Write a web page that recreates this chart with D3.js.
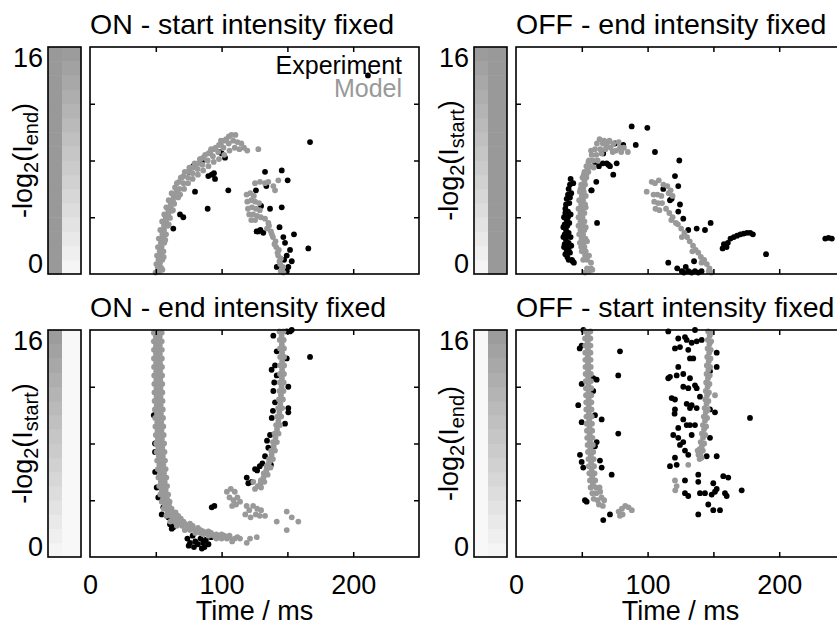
<!DOCTYPE html>
<html>
<head>
<meta charset="utf-8">
<script src="https://cdn.jsdelivr.net/npm/d3@7"></script>
<style>
  body { margin: 0; background: #fff; }
  svg { display: block; font-family: "Liberation Sans", Arial, Helvetica, sans-serif; }
</style>
</head>
<body>
<div id="chart"></div>
<script>
// Response latency vs. log intensity, four step conditions (Experiment vs Model)

const titles = ["ON - start intensity fixed", "OFF - end intensity fixed",
                "ON - end intensity fixed", "OFF - start intensity fixed"];
const ySubs = ["end", "start", "start", "end"];
const xTickLabels = [0, 100, 200];
const yTickLabels = [0, 16];
const legendLabels = ["Experiment", "Model"];
// colour bar columns: start (left) and end (right) intensity, "grad" = varies along y
const barStart = [16, "grad", "grad", 0];
const barEnd = ["grad", 16, 0, "grad"];

// [time ms, -log2 I]
const onStartExp = [[167.2,9.3],[133.0,7.2],[145.7,7.3],[150.2,6.6],[105.1,5.9],[126.1,5.9],[89.4,4.6],[136.8,4.6],[145.7,4.7],[70.9,4.0],[127.9,3.0],[131.7,2.9],[146.9,2.6],[155.0,2.8],[148.2,2.2],[152.0,1.7],[165.9,1.8],[149.5,1.3],[153.3,0.9],[141.9,0.5],[150.7,0.5],[149.5,0.2],[92.5,7.0],[95.0,6.7],[94.2,7.1],[89.9,6.9],[100.1,8.5],[102.6,8.2],[78.5,7.6],[79.8,5.8],[68.4,4.2],[63.3,3.2],[211.2,14.0],[52,0.5],[55,2.5],[58,4.0],[75,7.2],[85,7.9],[98,8.6],[130,4.8],[134,6.2],[126.6,3.0],[129.5,3.1],[144,3.3],[147.5,1.0]];
const onStartMod = [[49.8,0.1],[52.6,0.2],[55.0,0.3],[50.4,0.7],[53.2,0.8],[50.9,1.3],[53.8,1.3],[56.0,1.2],[51.6,1.9],[54.4,1.9],[52.3,2.5],[55.2,2.5],[57.2,2.4],[53.4,3.1],[56.3,3.1],[54.8,3.7],[57.8,3.7],[59.8,3.5],[56.4,4.2],[59.4,4.2],[58.0,4.7],[61.2,4.7],[63.0,4.5],[59.8,5.2],[63.0,5.2],[62.0,5.7],[65.4,5.6],[67.0,5.4],[64.6,6.1],[68.0,6.0],[67.6,6.5],[71.0,6.4],[69.8,6.8],[71.0,6.9],[74.4,6.8],[74.6,7.2],[78.0,7.1],[76.5,7.5],[78.4,7.5],[81.8,7.4],[82.0,7.8],[85.4,7.7],[84.0,8.1],[86.0,8.2],[89.4,8.0],[90.0,8.5],[93.4,8.3],[92.0,8.8],[94.0,8.8],[97.4,8.6],[98.0,9.1],[101.4,8.9],[99.5,9.4],[102.0,9.4],[105.4,9.2],[105.5,9.7],[108.8,9.4],[110.5,9.8],[112.0,9.3],[115.0,9.2],[113.5,8.8],[117.0,8.9],[119.5,8.7],[127.9,8.8],
  [66.0,6.4],[69.0,6.8],[72.0,7.2],[75.5,7.5],[79.5,7.8],[83.5,8.1],[87.5,8.4],[91.5,8.6],[95.5,8.9],[99.5,9.1],[103.5,9.5],[107.5,9.8],
  [68.5,5.6],[71.5,6.0],[74.5,6.4],[78.0,6.7],[82.0,7.0],[86.0,7.3],[90.0,7.6],[94.0,7.9],[98.0,8.1],[102.0,8.4],[106.0,8.7],[110.0,8.9],
  [51.5,0.45],[54.0,0.45],[52.0,1.0],[55.0,1.0],[53.0,1.6],[55.8,1.6],[53.8,2.2],[56.5,2.2],[55.0,2.8],[57.8,2.8],[56.2,3.4],[59.0,3.4],[57.8,3.95],[60.8,3.95],[59.5,4.45],[62.2,4.45],[61.3,4.95],[64.0,4.95],[63.5,5.45],[66.2,5.45],[66.0,5.85],
  [125.4,6.4],[129.2,6.5],[133.0,6.4],[135.5,6.5],[139.3,6.2],[143.1,6.6],[140.6,5.9],
  [119.0,5.6],[121.8,5.7],[124.5,5.5],[119.5,5.1],[122.5,5.2],[125.5,5.1],[128.5,5.0],[120.0,4.6],[123.0,4.7],[126.0,4.6],[129.0,4.5],[121.0,4.2],[124.0,4.2],[127.0,4.1],[129.8,4.0],[122.5,3.8],[125.5,3.8],
  [133.0,3.9],[135.5,3.6],[134.5,3.2],[137.5,3.0],[139.0,2.6],[141.0,2.3],[141.5,1.9],[143.5,1.7],[143.0,1.3],[145.0,1.1],[144.5,0.7],[146.5,0.5],[145.0,0.2],[147.0,0.1],
  [136.0,3.4],[138.2,2.8],[140.2,2.1],[142.5,1.5],[144.0,0.9],[146.0,0.3]];

const offEndExp = [[41.5,6.7],[43.5,6.4],[40.0,6.0],[42.0,5.7],[38.5,5.3],[40.5,5.0],[37.5,4.6],[39.5,4.4],[41.5,4.2],[36.5,4.0],[38.5,3.8],[40.5,3.6],[36.0,3.3],[38.0,3.1],[40.0,2.9],[36.0,2.6],[38.0,2.4],[40.0,2.2],[42.0,2.0],[36.5,1.9],[38.5,1.7],[41.0,1.5],[39.0,1.2],[42.5,1.0],[44.0,0.8],
  [37.5,1.4],[40.0,1.0],[37.0,2.1],[39.0,2.0],[37.0,2.8],[39.0,2.7],[41.5,2.6],[37.0,3.5],[39.0,3.4],[37.5,4.3],[39.5,4.0],[38.0,4.9],[39.5,5.6],[41.0,5.4],[41.0,6.3],[43.0,0.9],[40.0,1.8],
  [61.0,6.5],[57.2,5.9],[61.6,3.6],[87.9,10.4],[99.8,10.3],[91.0,9.1],[105.6,8.6],[76.5,7.8],[68.9,7.8],[71.4,7.6],[70.1,7.7],[73.9,7.0],[57.5,5.9],[81.5,9.1],[75.2,9.2],[66.3,8.5],[60,7.9],[63,7.6],[66,7.8],
  [124.1,8.0],[120.8,6.9],[123.3,6.2],[111.9,6.0],[117.0,5.2],[118.3,5.3],[124.6,4.9],[123.3,4.4],[127.1,3.9],[130.9,3.1],[137.3,3.2],[143.6,3.1],[147.9,3.6],[135.3,0.9],[115.7,0.8],
  [122.5,0.4],[126.0,0.2],[129.0,0.5],[131.0,0.2],[133.5,0.1],[136.0,0.2],[138.5,0.1],[141.0,0.2],[127.5,0.1],
  [157.0,1.8],[158.0,2.1],[160.0,1.9],[161.0,2.2],[163.0,2.5],[165.5,2.6],[168.0,2.7],[170.5,2.8],[173.0,2.85],[175.5,2.9],[178.0,2.9],[180.0,2.8],
  [190.0,1.4],[235.0,2.5],[237.5,2.55],[240.0,2.5]];
const offEndMod = [[52.5,0.1],[55.5,0.2],[58.0,0.3],[51.0,1.0],[54.0,1.0],[57.0,0.8],[50.0,1.6],[53.0,1.6],[48.5,2.2],[51.5,2.2],[54.0,2.3],[48.0,2.8],[51.0,2.8],[47.5,3.4],[50.5,3.4],[53.0,3.3],[47.5,4.0],[50.5,4.0],[47.5,4.6],[50.5,4.6],[53.0,4.7],[48.0,5.2],[51.0,5.2],[48.5,5.8],[51.5,5.8],[49.5,6.3],[52.5,6.3],[50.5,6.8],[53.5,6.8],[52.0,7.2],[55.0,7.2],[53.5,7.6],[56.5,7.6],[59.0,7.5],[55.5,8.0],[58.5,8.0],[62.0,8.0],[57.5,8.4],[61.0,8.4],[65.0,8.5],[60.0,8.8],[64.0,8.8],[68.0,8.8],[72.0,8.9],[76.0,8.7],[61.5,9.2],[66.0,9.2],[70.0,9.3],[74.0,9.2],[67.0,9.4],[71.0,9.4],[79.0,8.9],[82.0,8.9],[80.0,8.6],[85.0,8.6],
  [57.0,8.7],[63.5,9.5],[69.0,9.0],[73.5,8.6],[78.0,9.3],[55.0,7.9],[51.5,7.0],[49.0,6.0],
  [54.0,0.4],[57.0,0.4],[52.5,1.3],[55.5,1.3],[49.5,1.9],[52.0,1.9],[49.8,2.5],[52.8,2.5],[49.0,3.1],[52.0,3.1],[49.0,3.7],[52.0,3.7],[49.0,4.3],[52.0,4.3],[49.5,4.9],[52.5,4.9],[50.0,5.5],[53.0,5.5],[51.0,6.05],[52.0,6.55],[53.5,7.0],[54.5,7.4],
  [99.3,5.8],[103.1,6.5],[105.6,6.4],[108.5,6.6],[104.5,5.6],[107.5,5.6],[110.5,5.5],[105.0,5.1],[108.0,5.0],[111.0,5.0],[106.0,4.6],[109.0,4.5],[112.0,6.3],[115.0,6.2],[117.5,5.9],[119.0,5.5],[116.0,5.7],[114.0,4.6],[116.5,4.3],[119.0,4.0],[121.5,3.6],[118.0,3.8],[123.0,3.5],[125.5,3.2],[128.0,2.9],[126.0,2.6],[130.0,2.6],[132.0,2.3],[134.5,2.0],[136.5,1.7],[134.0,1.6],[138.5,1.5],[140.5,1.2],[143.0,1.0],[141.0,0.8],[145.0,0.7],[147.0,0.4],[148.5,0.1],[146.5,0.2]];

const onEndExp = [[49.4,8.0],[49.4,7.4],[50.7,4.9],[51.9,4.2],[54.5,3.0],[60.8,2.3],[62.1,2.0],[53.2,4.2],[55.7,3.5],[59.5,2.8],[63.3,2.1],[48.5,10.0],[49.5,6.0],
  [74,1.3],[76,1.0],[78,1.5],[80,1.1],[82,0.9],[84,1.3],[86,1.0],[88,1.2],[90,0.9],[92,1.4],[79,0.7],[85,0.6],[75,0.8],[87,0.7],[92.5,3.5],[94.5,3.6],
  [139.3,15.6],[141.9,14.5],[140.6,13.5],[141.9,12.8],[139.3,11.7],[140.6,10.9],[138.1,9.8],[136.8,8.6],[135.5,7.7],[133.0,7.1],[125.4,6.2],[119.1,5.6],[120.3,5.2],[122.9,5.3],[149.5,14.0],[150.7,10.5],[150.7,10.2],[148.2,9.4],[153.3,16.0],[149.5,15.9],[152.0,15.9],[150.7,12.0],[167.2,14.1],[134.5,8.2],[137.5,6.5],[131,6.6],[127,6.1],[129,6.4],[138,13.2],[140,12.3],[139,10.3]];
const onEndMod = [[48.5,15.8],[51.5,15.8],[54.5,15.8],[48.5,15.2],[51.5,15.2],[54.5,15.2],[48.6,14.6],[51.6,14.6],[54.6,14.6],[48.6,14.0],[51.6,14.0],[54.6,14.0],[48.7,13.4],[51.7,13.4],[54.7,13.4],[48.8,12.8],[51.8,12.8],[54.8,12.8],[48.9,12.2],[51.9,12.2],[54.9,12.2],[49.0,11.6],[52.0,11.6],[55.0,11.6],[49.1,11.0],[52.1,11.0],[55.1,11.0],[49.3,10.4],[52.3,10.4],[55.3,10.4],[49.5,9.8],[52.5,9.8],[55.5,9.8],[49.7,9.2],[52.7,9.2],[55.7,9.2],[50.0,8.6],[53.0,8.6],[56.0,8.6],[50.3,8.0],[53.3,8.0],[56.3,8.0],[50.6,7.4],[53.6,7.4],[56.6,7.4],[51.0,6.8],[54.0,6.8],[57.0,6.8],[51.5,6.2],[54.5,6.2],[57.5,6.2],[52.0,5.6],[55.0,5.6],[58.0,5.6],[52.6,5.0],[55.6,5.0],[58.6,5.0],[53.4,4.4],[56.4,4.4],[59.4,4.4],[54.5,3.9],[57.5,3.9],[60.5,3.9],[56.0,3.4],[59.0,3.4],[62.0,3.4],[58.0,2.9],[61.0,2.9],[64.0,2.9],[67,2.9],[61.0,2.5],[64.5,2.5],[68.0,2.5],[71,2.5],[66.0,2.2],[70.0,2.2],[74.0,2.2],[78,2.2],[72.0,1.9],[76.0,1.9],[80.0,1.9],[84,1.9],[80.0,1.7],[84.0,1.7],[88.0,1.7],[92,1.7],[90.0,1.5],[94.0,1.5],[98.0,1.5],[102,1.5],[106,1.5],[96.0,1.3],[100,1.3],[104,1.3],[110,1.3],[114,1.3],[108,1.1],
  [50.0,15.5],[53.0,15.5],[50.1,14.9],[53.1,14.9],[50.1,14.3],[53.1,14.3],[50.2,13.7],[53.2,13.7],[50.3,13.1],[53.3,13.1],[50.4,12.5],[53.4,12.5],[50.5,11.9],[53.5,11.9],[50.6,11.3],[53.6,11.3],[50.7,10.7],[53.7,10.7],[50.9,10.1],[53.9,10.1],[51.1,9.5],[54.1,9.5],[51.3,8.9],[54.3,8.9],[51.6,8.3],[54.6,8.3],[51.9,7.7],[54.9,7.7],[52.3,7.1],[55.3,7.1],[52.7,6.5],[55.7,6.5],[53.2,5.9],[56.2,5.9],[53.8,5.3],[56.8,5.3],[54.5,4.7],[57.5,4.7],[55.5,4.1],[58.5,4.1],[57.0,3.65],[60.0,3.65],[59.0,3.15],[62.0,3.15],[65.0,3.15],
  [63,2.7],[66,2.7],[69,2.7],[68,2.35],[72,2.35],[76,2.35],[74,2.05],[78,2.05],[82,2.05],[82,1.8],[86,1.8],[90,1.8],[86,1.6],[92,1.6],[96,1.6],[100,1.6],[98,1.4],[102,1.4],[106,1.4],[112,1.4],
  [144.0,15.9],[147.0,15.9],[144.2,15.3],[147.2,15.3],[144.4,14.7],[147.4,14.7],[144.5,14.1],[147.5,14.1],[144.5,13.5],[147.5,13.5],[144.4,12.9],[147.4,12.9],[144.2,12.3],[147.2,12.3],[144.0,11.7],[147.0,11.7],[143.6,11.1],[146.6,11.1],[143.0,10.5],[146.0,10.5],[142.3,9.9],[145.3,9.9],[141.4,9.3],[144.4,9.3],[140.3,8.7],[143.3,8.7],[139.0,8.1],[142.0,8.1],[137.6,7.5],[140.6,7.5],[136.0,6.9],[139.0,6.9],[134.2,6.4],[137.2,6.3],[132.0,5.9],[135.0,5.8],[129.8,5.4],[132.5,5.3],[127.5,5.0],[130.0,4.9],[125.4,4.8],[124.1,5.3],
  [145.6,15.6],[145.8,15.0],[145.95,14.4],[146.0,13.8],[145.95,13.2],[145.8,12.6],[145.6,12.0],[145.1,11.4],[144.6,10.8],[143.9,10.2],[143.1,9.6],[142.1,9.0],[140.9,8.4],[139.6,7.8],[138.0,7.2],[136.0,6.65],[134.0,6.1],[131.8,5.6],[129.5,5.15],
  [104,4.6],[107,4.8],[110,4.6],[106,4.2],[109,4.0],[112,4.2],[114,3.9],[108,3.6],[111,3.7],[118,3.0],[121,3.3],[124,3.6],[127,3.4],[130,3.3],[122,2.8],[126,3.0],[129,2.9],[133,2.9],[119,3.6],[149.5,3.2],[153.3,2.8],[158.3,2.5],[141.9,2.5],[149.5,1.9],[121.6,1.3],[119.1,1.0],[126.7,1.4]];

const offStartExp = [[51.2,16.0],[49.9,14.9],[48.4,14.7],[79.0,14.5],[77.7,12.8],[58.7,12.6],[61.3,12.5],[49.9,12.2],[58.7,11.7],[47.3,10.7],[49.9,9.5],[60.0,10.0],[65.1,9.7],[77.7,8.7],[61.3,8.1],[60.0,7.8],[48.6,7.2],[49.9,6.7],[51.1,6.3],[63.8,6.8],[65.1,6.3],[72.7,5.8],[52.4,4.0],[53.7,3.9],[71.4,3.0],[66.3,2.6],
  [115.7,15.9],[123.3,15.4],[128.4,15.5],[129.7,15.3],[136.0,16.0],[133.5,15.1],[137.3,15.2],[141.1,15.3],[120.8,14.7],[124.6,14.8],[130.9,14.6],[152.5,14.4],[132.2,14.0],[134.7,14.0],[123.3,13.4],[122.1,12.8],[117.0,12.7],[115.7,12.6],[127.1,12.9],[132.2,12.6],[127.1,12.0],[130.9,11.9],[136.0,12.1],[137.3,11.9],[147.4,13.1],[152.5,13.4],[118.3,11.2],[120.8,11.1],[129.7,10.8],[133.5,10.7],[132.2,10.5],[120.8,10.4],[137.3,10.5],[139.8,11.3],[147.4,10.4],[151.2,10.2],[120.5,10.1],[177.8,9.8],[127.1,9.7],[129.7,9.3],[132.2,9.3],[136.0,9.3],[123.3,9.1],[119.5,8.6],[123.3,8.4],[127.1,8.1],[133.5,8.6],[147.4,8.4],[124.6,7.9],[128.4,7.5],[130.9,7.2],[120.8,7.0],[117.0,6.4],[122.1,6.5],[152.5,7.1],[144.9,7.1],[128.4,5.4],[138.5,5.8],[138.5,5.3],[157.5,5.7],[161.3,5.6],[149.9,5.2],[152.5,4.8],[171.5,4.7],[128.4,4.5],[130.9,4.3],[139.8,4.5],[143.6,4.5],[148.7,4.4],[151.2,4.6],[158.8,4.5],[160.1,4.3],[146.1,3.7],[149.9,3.3],[155.0,3.3],[138.5,3.0]];
const offStartMod = [[52.5,15.9],[56.5,15.9],[52.5,15.4],[56.5,15.4],[52.6,14.9],[56.6,14.9],[52.6,14.4],[56.6,14.4],[52.7,13.9],[56.7,13.9],[52.8,13.4],[56.8,13.4],[52.9,12.9],[56.9,12.9],[53.0,12.4],[57.0,12.4],[53.1,11.9],[57.1,11.9],[53.2,11.4],[57.2,11.4],[53.3,10.9],[57.3,10.9],[53.4,10.4],[57.4,10.4],[53.5,9.9],[57.5,9.9],[53.7,9.4],[57.7,9.4],[53.9,8.9],[57.9,8.9],[54.1,8.4],[58.1,8.4],[54.4,7.9],[58.4,7.9],[54.7,7.4],[58.7,7.4],[55.0,6.9],[59.0,6.9],[55.3,6.4],[59.3,6.4],[55.7,5.9],[59.7,5.9],[56.2,5.4],[60.2,5.4],[56.7,4.9],[60.7,4.9],[63.5,4.9],
  [54.5,15.65],[54.5,15.15],[54.6,14.65],[54.6,14.15],[54.7,13.65],[54.8,13.15],[54.9,12.65],[55.0,12.15],[55.1,11.65],[55.2,11.15],[55.3,10.65],[55.4,10.15],[55.6,9.65],[55.8,9.15],[56.0,8.65],[56.2,8.15],[56.5,7.65],[56.8,7.15],[57.1,6.65],[57.5,6.15],[57.9,5.65],[58.4,5.15],
  [58,4.5],[61,4.5],[64,4.6],[59,4.1],[62,4.0],[65,4.2],[67,4.0],[63,3.7],[66,3.6],
  [78,3.2],[80.5,3.4],[83,3.6],[85.5,3.5],[88,3.3],[81,3.0],[79,2.9],
  [146.0,15.9],[148.5,15.8],[145.8,15.3],[148.3,15.2],[145.6,14.7],[148.0,14.6],[145.3,14.1],[147.8,14.0],[145.0,13.5],[147.5,13.4],[144.8,12.9],[147.2,12.8],[144.5,12.3],[147.0,12.2],[144.2,11.7],[146.6,11.6],[143.8,11.1],[146.2,11.0],[143.3,10.5],[145.8,10.4],[142.7,9.9],[145.2,9.8],[142.0,9.3],[144.5,9.2],[141.2,8.7],[143.8,8.6],[140.3,8.1],[143.0,8.0],[139.5,7.6],[142.0,7.5],[138.6,7.2],[141.0,7.0],[139.5,6.9],[138.0,7.5],
  [147.2,15.6],[147.0,15.0],[146.8,14.4],[146.5,13.8],[146.2,13.2],[145.9,12.6],[145.6,12.0],[145.2,11.4],[144.8,10.8],[144.2,10.2],[143.6,9.6],[142.9,9.0],[142.1,8.4],[141.2,7.8],[140.2,7.3],
  [151.2,11.4],[130.9,6.5],[120.8,5.4],[122.1,5.0],[121.0,4.7]];

const expSeries = [onStartExp, offEndExp, onEndExp, offStartExp];
const modSeries = [onStartMod, offEndMod, onEndMod, offStartMod];

// layout
const W = 837, H = 626;
const plotW = 329, plotH = 227;
const origins = [[90, 47], [516, 47], [90, 330], [516, 330]];
const FONT = 27;
const R = 2.9;

const svg = d3.select("#chart").append("svg")
  .attr("width", W).attr("height", H)
  .attr("viewBox", [0, 0, W, H]);

const grey = d3.scaleLinear().domain([0, 16]).range(["#f8f8f8", "#999999"]);

origins.forEach(([left, top], i) => {
  const x = d3.scaleLinear().domain([0, 250]).range([left, left + plotW]);
  const y = d3.scaleLinear().domain([0, 16]).range([top + plotH, top]);
  const g = svg.append("g");

  // title
  g.append("text")
    .attr("x", left).attr("y", top - 13)
    .attr("font-size", 28.5)
    .text(titles[i]);

  // colour bar (start | end)
  const cbX = left - 42;
  const cols = [{ x: cbX, w: 14, spec: barStart[i] }, { x: cbX + 14, w: 19, spec: barEnd[i] }];
  const levels = d3.range(16);
  cols.forEach(c => {
    g.append("g").selectAll("rect")
      .data(levels)
      .join("rect")
      .attr("x", c.x).attr("width", c.w)
      .attr("y", d => y(d + 1)).attr("height", d => y(d) - y(d + 1) + 0.5)
      .attr("fill", d => c.spec === "grad" ? grey(d + 0.5) : grey(c.spec));
  });
  g.append("rect")
    .attr("x", cbX).attr("y", top).attr("width", 33).attr("height", plotH)
    .attr("fill", "none").attr("stroke", "#000").attr("stroke-width", 1.6);

  // y tick labels next to colour bar
  g.selectAll("text.ytl")
    .data(yTickLabels)
    .join("text")
    .attr("class", "ytl")
    .attr("x", cbX - 5)
    .attr("y", d => d === 16 ? y(d) + 19.5 : y(d) - 1)
    .attr("text-anchor", "end")
    .attr("font-size", FONT)
    .text(d => d);

  // y label
  const yl = g.append("text")
    .attr("transform", `translate(${left - 58},${top + plotH / 2}) rotate(-90)`)
    .attr("text-anchor", "middle")
    .attr("font-size", FONT);
  yl.append("tspan").text("-log");
  yl.append("tspan").attr("font-size", 20).attr("dy", 6).text("2");
  yl.append("tspan").attr("dy", -6).text("(I");
  yl.append("tspan").attr("font-size", 20).attr("dy", 6).text(ySubs[i]);
  yl.append("tspan").attr("dy", -6).text(")");

  // data
  g.append("g").selectAll("circle")
    .data(expSeries[i])
    .join("circle")
    .attr("cx", d => x(d[0])).attr("cy", d => y(d[1]))
    .attr("r", R).attr("fill", "#000");
  g.append("g").selectAll("circle")
    .data(modSeries[i])
    .join("circle")
    .attr("cx", d => x(d[0])).attr("cy", d => y(d[1]))
    .attr("r", R).attr("fill", "#999");

  // inward ticks on all sides
  const tickX = [50, 100, 150, 200], tickY = [4, 8, 12];
  g.append("g").attr("transform", `translate(0,${top + plotH})`)
    .call(d3.axisBottom(x).tickValues(tickX).tickSize(-5).tickFormat(""));
  g.append("g").attr("transform", `translate(0,${top})`)
    .call(d3.axisTop(x).tickValues(tickX).tickSize(-5).tickFormat(""));
  g.append("g").attr("transform", `translate(${left},0)`)
    .call(d3.axisLeft(y).tickValues(tickY).tickSize(-5).tickFormat(""));
  g.append("g").attr("transform", `translate(${left + plotW},0)`)
    .call(d3.axisRight(y).tickValues(tickY).tickSize(-5).tickFormat(""));
  g.selectAll(".domain").remove();
  g.selectAll(".tick line").attr("stroke", "#000").attr("stroke-width", 1.5);

  g.append("rect")
    .attr("x", left).attr("y", top).attr("width", plotW).attr("height", plotH)
    .attr("fill", "none").attr("stroke", "#000").attr("stroke-width", 1.6);

  // x tick labels and axis title on bottom row
  if (i >= 2) {
    const ax = g.append("g").attr("transform", `translate(0,${top + plotH})`)
      .call(d3.axisBottom(x).tickValues(xTickLabels).tickSize(0).tickPadding(18));
    ax.select(".domain").remove();
    ax.selectAll("text").attr("font-size", FONT).attr("font-family", null).attr("fill", "#000");
    g.append("text")
      .attr("x", left + plotW / 2).attr("y", top + plotH + 63)
      .attr("text-anchor", "middle")
      .attr("font-size", FONT)
      .text("Time / ms");
  }

  // legend in first panel
  if (i === 0) {
    g.selectAll("text.leg")
      .data(legendLabels)
      .join("text")
      .attr("class", "leg")
      .attr("x", left + plotW - 17)
      .attr("y", (d, k) => top + 27 + k * 23)
      .attr("text-anchor", "end")
      .attr("font-size", 25)
      .attr("fill", (d, k) => k === 0 ? "#000" : "#999")
      .text(d => d);
  }
});
</script>
</body>
</html>
